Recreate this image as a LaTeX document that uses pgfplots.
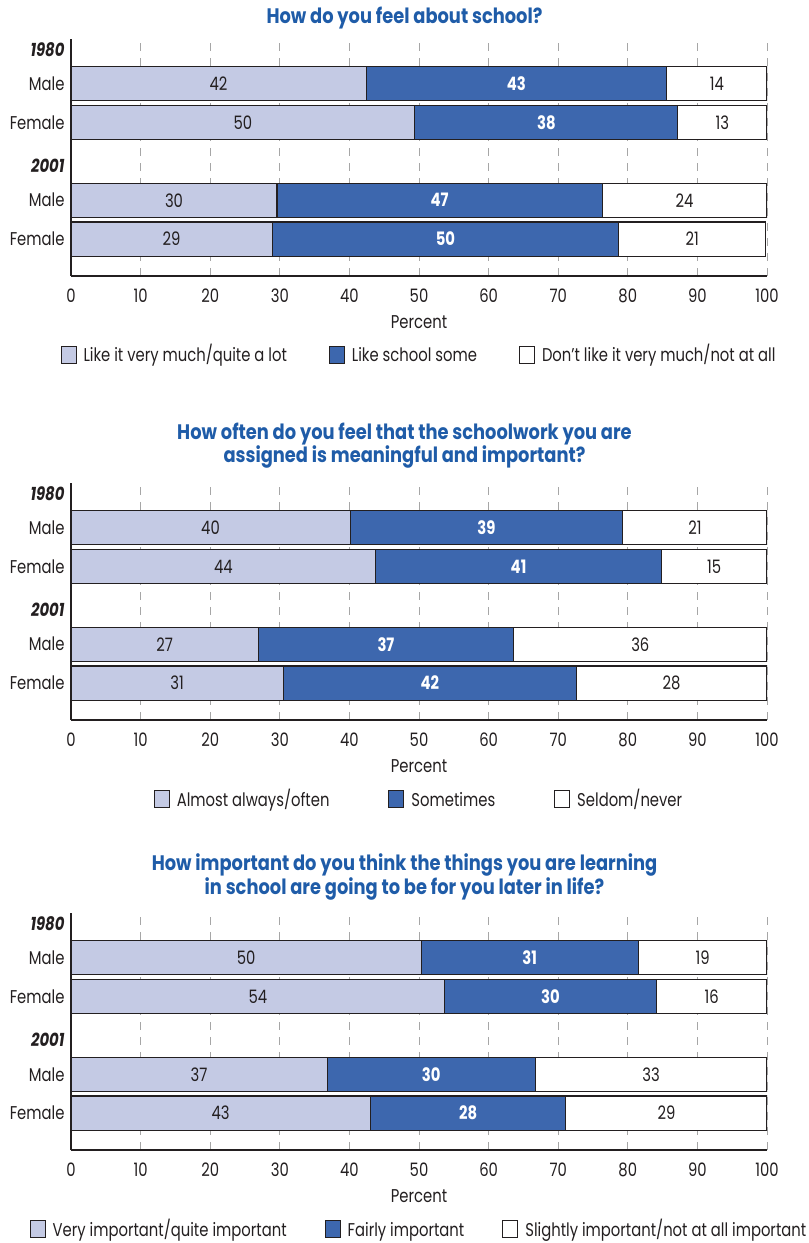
\documentclass[border=0pt]{standalone}
\usepackage{pgfplots}
\pgfplotsset{compat=1.18}
\usepackage{pgfplotstable}
\usepackage{fontspec}
\setmainfont{Poppins}[FakeStretch=0.8]
\newfontfamily\ttlfont{Poppins}[FakeStretch=0.85]

\definecolor{lightbar}{HTML}{C4CAE4}
\definecolor{midbar}{HTML}{3D67AE}
\definecolor{titleblue}{HTML}{1F5CA8}
\definecolor{ink}{HTML}{231F20}

% segment widths (a, b, c) and the rounded labels printed on them
\pgfplotstableread{
y a b c la lb lc
5 42.4 43.2 14.4 42 43 14
4 49.4 37.8 12.8 50 38 13
2 29.6 46.7 23.7 30 47 24
1 28.9 49.8 21.1 29 50 21
}\feeltab
\pgfplotstableread{
y a b c la lb lc
5 40.1 39.2 20.7 40 39 21
4 43.8 41.0 15.2 44 41 15
2 26.9 36.7 36.4 27 37 36
1 30.5 42.1 27.4 31 42 28
}\worktab
\pgfplotstableread{
y a b c la lb lc
5 50.3 31.2 18.5 50 31 19
4 53.7 30.4 15.9 54 30 16
2 36.8 29.9 33.3 37 30 33
1 43.0 28.1 28.9 43 28 29
}\latertab

\newcommand\txt{\fontsize{18.5}{21}\selectfont}

\pgfplotsset{
  panel/.style={
    width=696pt, height=237pt, scale only axis,
    xmin=0, xmax=100, ymin=0.05, ymax=6.15,
    axis x line*=bottom, axis y line*=left,
    axis line style={-, line width=1.6pt, ink},
    xtick={0,10,...,100},
    ytick={1,2,2.88,4,5,5.88},
    yticklabels={Female,Male,\textbf{\textit{2001}},Female,Male,\textbf{\textit{1980}}},
    major tick length=0pt,
    xmajorgrids,
    grid style={gray!70, line width=0.8pt, dash pattern=on 8pt off 7pt},
    tick label style={font=\txt, text=ink},
    /pgf/number format/assume math mode=true,
    xticklabel style={yshift=-9pt},
    yticklabel style={xshift=-3pt},
    xlabel={Percent},
    xlabel style={font=\txt, text=ink, at={(axis description cs:0.5,0)}, anchor=center, yshift=-46pt},
    legend columns=3,
    legend image code/.code={\draw[##1, draw=ink, line width=1pt] (0pt,-4pt) rectangle (15pt,13pt);},
    legend style={draw=none, fill=none, font=\txt, text=ink,
      at={(axis description cs:0.5,-0.338)}, anchor=center,
      nodes={text height=0.78em, text depth=0.24em},
      /tikz/every odd column/.append style={column sep=5pt}},
  },
}

\newcommand\bars[1]{%
  \addplot[xbar, bar width=0.88, bar shift=0pt, fill=white, draw=ink, line width=1.1pt, forget plot]
    table[x expr=\thisrow{a}+\thisrow{b}+\thisrow{c}, y=y]{#1};
  \addplot[xbar, bar width=0.88, bar shift=0pt, fill=midbar, draw=ink, line width=1.1pt, forget plot]
    table[x expr=\thisrow{a}+\thisrow{b}, y=y]{#1};
  \addplot[xbar, bar width=0.88, bar shift=0pt, fill=lightbar, draw=ink, line width=1.1pt, forget plot]
    table[x=a, y=y]{#1};
  \addplot[draw=none, mark=none, forget plot, nodes near coords, point meta=explicit symbolic,
    every node near coord/.append style={anchor=center, font=\txt, text=ink}]
    table[x expr=\thisrow{a}/2, y=y, meta=la]{#1};
  \addplot[draw=none, mark=none, forget plot, nodes near coords, point meta=explicit symbolic,
    every node near coord/.append style={anchor=center, font=\txt\bfseries, text=white}]
    table[x expr=\thisrow{a}+\thisrow{b}/2, y=y, meta=lb]{#1};
  \addplot[draw=none, mark=none, forget plot, nodes near coords, point meta=explicit symbolic,
    every node near coord/.append style={anchor=center, font=\txt, text=ink}]
    table[x expr=\thisrow{a}+\thisrow{b}+\thisrow{c}/2, y=y, meta=lc]{#1};
}

\begin{document}
\begin{tikzpicture}[x=1pt, y=1pt]
\useasboundingbox (0,0) rectangle (809,1243);

\tikzset{ttl/.style={font=\ttlfont\fontsize{21}{23.5}\selectfont\bfseries, text=titleblue, align=center}}
\node[ttl] at (404.5,1225) {How do you feel about school?};
\node[ttl] at (404.5,797.5) {How often do you feel that the schoolwork you are\\assigned is meaningful and important?};
\node[ttl] at (404.5,366) {How important do you think the things you are learning\\in school are going to be for you later in life?};

\begin{axis}[panel, at={(71pt,967pt)}, anchor=south west,
  legend style={/tikz/every even column/.append style={column sep=40pt}}]
  \bars{\feeltab}
  \addlegendimage{fill=lightbar}\addlegendentry{Like it very much/quite a lot}
  \addlegendimage{fill=midbar}\addlegendentry{Like school some}
  \addlegendimage{fill=white}\addlegendentry{Don’t like it very much/not at all}
\end{axis}

\begin{axis}[panel, at={(71pt,523pt)}, anchor=south west,
  legend style={/tikz/every even column/.append style={column sep=57pt}}]
  \bars{\worktab}
  \addlegendimage{fill=lightbar}\addlegendentry{Almost always/often}
  \addlegendimage{fill=midbar}\addlegendentry{Sometimes}
  \addlegendimage{fill=white}\addlegendentry{Seldom/never}
\end{axis}

\begin{axis}[panel, at={(71pt,93pt)}, anchor=south west,
  legend style={/tikz/every even column/.append style={column sep=36pt}}]
  \bars{\latertab}
  \addlegendimage{fill=lightbar}\addlegendentry{Very important/quite important}
  \addlegendimage{fill=midbar}\addlegendentry{Fairly important}
  \addlegendimage{fill=white}\addlegendentry{Slightly important/not at all important}
\end{axis}
\end{tikzpicture}
\end{document}
